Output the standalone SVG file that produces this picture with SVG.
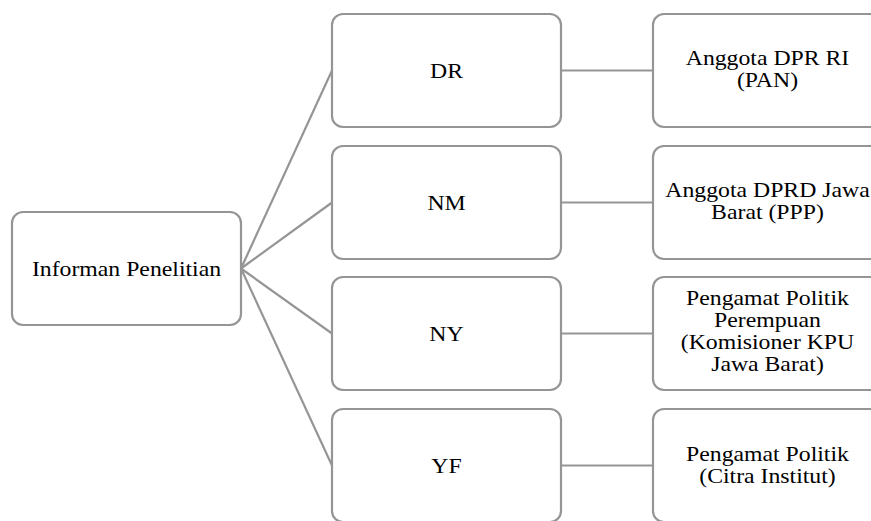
<svg xmlns="http://www.w3.org/2000/svg" width="871" height="521" viewBox="0 0 871 521">
<style>
.box{fill:#ffffff;stroke:#959595;stroke-width:2.2}
.ln{stroke:#959595;stroke-width:2.2;fill:none}
.t{font-size:22px;fill:#000000;text-anchor:middle}
</style>
<rect width="871" height="521" fill="#ffffff"/>
<g id="connectors">
<line class="ln" x1="241" y1="268.5" x2="332" y2="70.5"/>
<line class="ln" x1="241" y1="268.5" x2="332" y2="202.5"/>
<line class="ln" x1="241" y1="268.5" x2="332" y2="333.5"/>
<line class="ln" x1="241" y1="268.5" x2="332" y2="465.5"/>
<line class="ln" x1="561" y1="70.5" x2="653" y2="70.5"/>
<line class="ln" x1="561" y1="202.5" x2="653" y2="202.5"/>
<line class="ln" x1="561" y1="333.5" x2="653" y2="333.5"/>
<line class="ln" x1="561" y1="465.5" x2="653" y2="465.5"/>
</g>
<g font-family="'Liberation Serif', 'Times New Roman', Times, serif">
<g id="informan">
<rect class="box" x="12" y="212" width="229" height="113" rx="11"/>
<text class="t" transform="matrix(1.08 0 0 1 126.5 0)" x="0" y="276">Informan Penelitian</text>
</g>
<g id="dr">
<rect class="box" x="332" y="14" width="229" height="113" rx="11"/>
<text class="t" transform="matrix(1.08 0 0 1 446.5 0)" x="0" y="78.5">DR</text>
</g>
<g id="nm">
<rect class="box" x="332" y="146" width="229" height="113" rx="11"/>
<text class="t" transform="matrix(1.08 0 0 1 446.5 0)" x="0" y="210">NM</text>
</g>
<g id="ny">
<rect class="box" x="332" y="277" width="229" height="113" rx="11"/>
<text class="t" transform="matrix(1.08 0 0 1 446.5 0)" x="0" y="341">NY</text>
</g>
<g id="yf">
<rect class="box" x="332" y="409" width="229" height="113" rx="11"/>
<text class="t" transform="matrix(1.08 0 0 1 446.5 0)" x="0" y="473">YF</text>
</g>
<g id="dpr-ri">
<rect class="box" x="653" y="14" width="229" height="113" rx="11"/>
<text class="t" transform="matrix(1.08 0 0 1 767.5 0)" x="0" y="65.5">Anggota DPR RI</text>
<text class="t" transform="matrix(1.08 0 0 1 767.5 0)" x="0" y="87.5">(PAN)</text>
</g>
<g id="dprd">
<rect class="box" x="653" y="146" width="229" height="113" rx="11"/>
<text class="t" transform="matrix(1.08 0 0 1 767.5 0)" x="0" y="197">Anggota DPRD Jawa</text>
<text class="t" transform="matrix(1.08 0 0 1 767.5 0)" x="0" y="219">Barat (PPP)</text>
</g>
<g id="kpu">
<rect class="box" x="653" y="277" width="229" height="113" rx="11"/>
<text class="t" transform="matrix(1.08 0 0 1 767.5 0)" x="0" y="305">Pengamat Politik</text>
<text class="t" transform="matrix(1.08 0 0 1 767.5 0)" x="0" y="327">Perempuan</text>
<text class="t" transform="matrix(1.08 0 0 1 767.5 0)" x="0" y="349">(Komisioner KPU</text>
<text class="t" transform="matrix(1.08 0 0 1 767.5 0)" x="0" y="371">Jawa Barat)</text>
</g>
<g id="citra">
<rect class="box" x="653" y="409" width="229" height="113" rx="11"/>
<text class="t" transform="matrix(1.08 0 0 1 767.5 0)" x="0" y="461.5">Pengamat Politik</text>
<text class="t" transform="matrix(1.08 0 0 1 767.5 0)" x="0" y="483.5">(Citra Institut)</text>
</g>
</g>
</svg>
